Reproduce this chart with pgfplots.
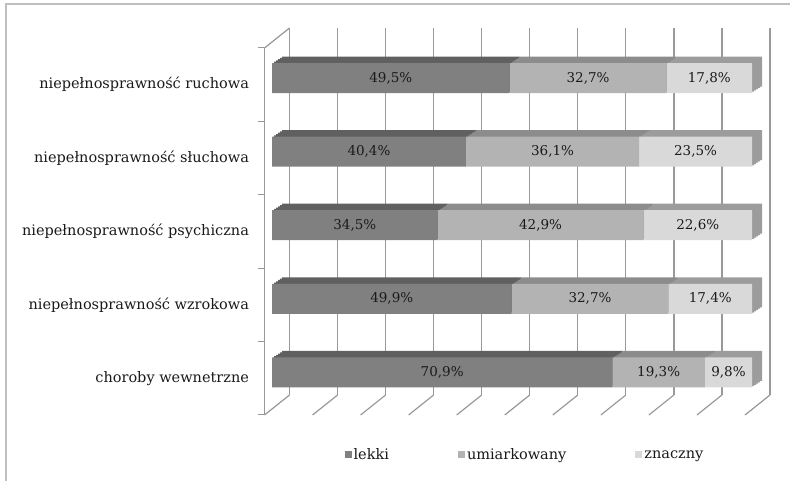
\documentclass[border=0pt]{standalone}
\usepackage{fontspec}
\setmainfont{DejaVu Serif}
\usepackage{pgfplots}
\usepackage{pgfplotstable}
\pgfplotsset{compat=1.18}

\definecolor{lekF}{HTML}{808080}
\definecolor{lekT}{HTML}{606060}
\definecolor{umiF}{HTML}{B3B3B3}
\definecolor{umiT}{HTML}{8C8C8C}
\definecolor{zF}{HTML}{D9D9D9}
\definecolor{zT}{HTML}{9C9C9C}
\definecolor{gridc}{HTML}{999999}
\definecolor{framec}{HTML}{BFBFBF}
\definecolor{txt}{HTML}{1A1A1A}

% 0 = choroby wewnetrzne (bottom) ... 4 = ruchowa (top)
\pgfplotstableread{
idx lekki umiark znaczny
0   70.9  19.3   9.8
1   49.9  32.7   17.4
2   34.5  42.9   22.6
3   40.4  36.1   23.5
4   49.5  32.7   17.8
}\dane

\pgfplotsset{
  barbase/.style={
    scale only axis, width=480pt, height=368.1pt,
    anchor=south west,
    xmin=0, xmax=100, ymin=-0.5, ymax=4.5,
    hide axis, xbar stacked, bar width=30pt,
  },
  planebase/.style={
    scale only axis, width=480.5pt, height=367pt,
    anchor=south west,
    xmin=0, xmax=100, ymin=-0.5, ymax=4.5,
  },
}

% shifted copies give the top and right faces of the bars
\newcommand\kopia[1]{%
  \begin{axis}[barbase, at={({272pt+#1*10pt},{71.7pt+#1*6.5pt})}]
    \addplot[fill=lekT, draw=none] table[x=lekki, y=idx]{\dane};
    \addplot[fill=umiT, draw=none] table[x=umiark, y=idx]{\dane};
    \addplot[fill=zT, draw=none] table[x=znaczny, y=idx]{\dane};
  \end{axis}}

\begin{document}
\begin{tikzpicture}[font=\fontsize{14.5}{17}\selectfont, text=txt]
\path[use as bounding box] (0pt,0pt) rectangle (790pt,481pt);
\draw[framec, line width=1.5pt] (6pt,0pt) -- (6pt,477pt) -- (790pt,477pt);

% back wall with the grid, floor lines
\begin{axis}[planebase, at={(289.5pt,86pt)}, clip=false,
  axis line style={draw=none}, tick style={draw=none},
  xtick={0,10,...,100}, xticklabels={}, ytick=\empty,
  xmajorgrids, major grid style={gridc, line width=1.2pt}]
  \pgfplotsinvokeforeach{0,10,...,100}{
    \draw[gridc, line width=1.2pt] (axis cs:#1,-0.5) -- ++(-25pt,-20pt);}
  \draw[gridc, line width=1.2pt] (axis cs:0,4.5) -- ++(-25pt,-20pt);
\end{axis}

% front left edge with the category names
\begin{axis}[planebase, at={(264.5pt,66pt)},
  hide x axis, axis y line*=left,
  y axis line style={gridc, line width=1.2pt},
  ytick={0,...,4},
  yticklabels={{choroby wewnetrzne},{niepełnosprawność wzrokowa},
    {niepełnosprawność psychiczna},{niepełnosprawność słuchowa},
    {niepełnosprawność ruchowa}},
  minor ytick={-0.5,0.5,...,4.5},
  major tick length=0pt, minor tick length=6pt, tick align=outside,
  minor tick style={gridc, line width=1pt},
  yticklabel style={anchor=east, xshift=-12pt}]
\end{axis}

\kopia{1}
\kopia{0.8}
\kopia{0.6}
\kopia{0.4}
\kopia{0.2}

% front faces
\begin{axis}[barbase, at={(272pt,71.7pt)},
  legend columns=3,
  legend style={at={(0.527,-0.124)}, anchor=center, draw=none, fill=none,
    /tikz/every even column/.append style={column sep=67pt}},
  legend image code/.code={\fill[#1, draw=none] (0pt,-3.5pt) rectangle (7pt,3.5pt);}]
  \addplot[fill=lekF, draw=none] table[x=lekki, y=idx]{\dane};
  \addplot[fill=umiF, draw=none] table[x=umiark, y=idx]{\dane};
  \addplot[fill=zF, draw=none] table[x=znaczny, y=idx]{\dane};
  \legend{lekki, umiarkowany, znaczny}
\end{axis}

% values in the middle of each segment
\begin{axis}[scale only axis, width=480pt, height=368.1pt, anchor=south west,
  at={(272pt,71.7pt)}, xmin=0, xmax=100, ymin=-0.5, ymax=4.5, hide axis,
  /pgf/number format/assume math mode=true,
  nodes near coords={\pgfmathprintnumber[fixed,fixed zerofill,precision=1,use comma,assume math mode=true]{\pgfplotspointmeta}\%},
  nodes near coords style={anchor=center, font=\fontsize{13.5}{15}\selectfont, text=txt}]
  \addplot[draw=none, mark=none, point meta=\thisrow{lekki}]
    table[x expr=\thisrow{lekki}/2, y=idx]{\dane};
  \addplot[draw=none, mark=none, point meta=\thisrow{umiark}]
    table[x expr=\thisrow{lekki}+\thisrow{umiark}/2, y=idx]{\dane};
  \addplot[draw=none, mark=none, point meta=\thisrow{znaczny}]
    table[x expr=\thisrow{lekki}+\thisrow{umiark}+\thisrow{znaczny}/2, y=idx]{\dane};
\end{axis}
\end{tikzpicture}
\end{document}
